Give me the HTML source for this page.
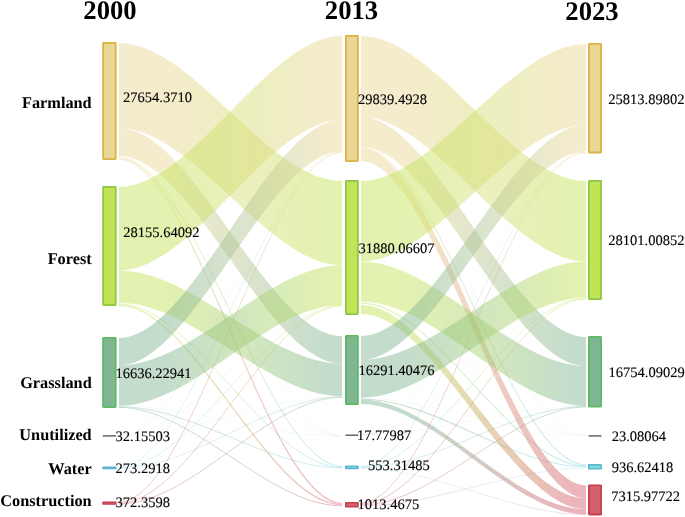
<!DOCTYPE html>
<html><head><meta charset="utf-8"><style>
html,body{margin:0;padding:0;background:#fff;width:685px;height:517px;overflow:hidden}
svg{display:block;will-change:transform}
</style></head><body>
<svg width="685" height="517" viewBox="0 0 685 517">
<defs><linearGradient id="g1" gradientUnits="userSpaceOnUse" x1="119" y1="0" x2="342" y2="0"><stop offset="0" stop-color="#E9D794"/><stop offset="0.2" stop-color="#E9D794"/><stop offset="0.95" stop-color="#C3E356"/><stop offset="1" stop-color="#C3E356"/></linearGradient><linearGradient id="g2" gradientUnits="userSpaceOnUse" x1="119" y1="0" x2="342" y2="0"><stop offset="0" stop-color="#E9D794"/><stop offset="0.2" stop-color="#E9D794"/><stop offset="0.95" stop-color="#80B592"/><stop offset="1" stop-color="#80B592"/></linearGradient><linearGradient id="g3" gradientUnits="userSpaceOnUse" x1="119" y1="0" x2="342" y2="0"><stop offset="0" stop-color="#C3E356"/><stop offset="0.2" stop-color="#C3E356"/><stop offset="0.95" stop-color="#E9D794"/><stop offset="1" stop-color="#E9D794"/></linearGradient><linearGradient id="g4" gradientUnits="userSpaceOnUse" x1="119" y1="0" x2="342" y2="0"><stop offset="0" stop-color="#C3E356"/><stop offset="0.2" stop-color="#C3E356"/><stop offset="0.95" stop-color="#80B592"/><stop offset="1" stop-color="#80B592"/></linearGradient><linearGradient id="g5" gradientUnits="userSpaceOnUse" x1="119" y1="0" x2="342" y2="0"><stop offset="0" stop-color="#80B592"/><stop offset="0.2" stop-color="#80B592"/><stop offset="0.95" stop-color="#E9D794"/><stop offset="1" stop-color="#E9D794"/></linearGradient><linearGradient id="g6" gradientUnits="userSpaceOnUse" x1="119" y1="0" x2="342" y2="0"><stop offset="0" stop-color="#80B592"/><stop offset="0.2" stop-color="#80B592"/><stop offset="0.95" stop-color="#C3E356"/><stop offset="1" stop-color="#C3E356"/></linearGradient><linearGradient id="g7" gradientUnits="userSpaceOnUse" x1="361" y1="0" x2="586" y2="0"><stop offset="0" stop-color="#E9D794"/><stop offset="0.2" stop-color="#E9D794"/><stop offset="0.95" stop-color="#C3E356"/><stop offset="1" stop-color="#C3E356"/></linearGradient><linearGradient id="g8" gradientUnits="userSpaceOnUse" x1="361" y1="0" x2="586" y2="0"><stop offset="0" stop-color="#E9D794"/><stop offset="0.2" stop-color="#E9D794"/><stop offset="0.95" stop-color="#80B592"/><stop offset="1" stop-color="#80B592"/></linearGradient><linearGradient id="g9" gradientUnits="userSpaceOnUse" x1="361" y1="0" x2="586" y2="0"><stop offset="0" stop-color="#E9D794"/><stop offset="0.2" stop-color="#E9D794"/><stop offset="0.95" stop-color="#D5606E"/><stop offset="1" stop-color="#D5606E"/></linearGradient><linearGradient id="g10" gradientUnits="userSpaceOnUse" x1="361" y1="0" x2="586" y2="0"><stop offset="0" stop-color="#C3E356"/><stop offset="0.2" stop-color="#C3E356"/><stop offset="0.95" stop-color="#E9D794"/><stop offset="1" stop-color="#E9D794"/></linearGradient><linearGradient id="g11" gradientUnits="userSpaceOnUse" x1="361" y1="0" x2="586" y2="0"><stop offset="0" stop-color="#C3E356"/><stop offset="0.2" stop-color="#C3E356"/><stop offset="0.95" stop-color="#80B592"/><stop offset="1" stop-color="#80B592"/></linearGradient><linearGradient id="g12" gradientUnits="userSpaceOnUse" x1="361" y1="0" x2="586" y2="0"><stop offset="0" stop-color="#C3E356"/><stop offset="0.2" stop-color="#C3E356"/><stop offset="0.95" stop-color="#D5606E"/><stop offset="1" stop-color="#D5606E"/></linearGradient><linearGradient id="g13" gradientUnits="userSpaceOnUse" x1="361" y1="0" x2="586" y2="0"><stop offset="0" stop-color="#80B592"/><stop offset="0.2" stop-color="#80B592"/><stop offset="0.95" stop-color="#E9D794"/><stop offset="1" stop-color="#E9D794"/></linearGradient><linearGradient id="g14" gradientUnits="userSpaceOnUse" x1="361" y1="0" x2="586" y2="0"><stop offset="0" stop-color="#80B592"/><stop offset="0.2" stop-color="#80B592"/><stop offset="0.95" stop-color="#C3E356"/><stop offset="1" stop-color="#C3E356"/></linearGradient><linearGradient id="g15" gradientUnits="userSpaceOnUse" x1="361" y1="0" x2="586" y2="0"><stop offset="0" stop-color="#80B592"/><stop offset="0.2" stop-color="#80B592"/><stop offset="0.95" stop-color="#D5606E"/><stop offset="1" stop-color="#D5606E"/></linearGradient><linearGradient id="g16" gradientUnits="userSpaceOnUse" x1="119" y1="0" x2="342" y2="0"><stop offset="0" stop-color="#E9D794"/><stop offset="0.2" stop-color="#E9D794"/><stop offset="0.95" stop-color="#777777"/><stop offset="1" stop-color="#777777"/></linearGradient><linearGradient id="g17" gradientUnits="userSpaceOnUse" x1="119" y1="0" x2="342" y2="0"><stop offset="0" stop-color="#E9D794"/><stop offset="0.2" stop-color="#E9D794"/><stop offset="0.95" stop-color="#7FD9E0"/><stop offset="1" stop-color="#7FD9E0"/></linearGradient><linearGradient id="g18" gradientUnits="userSpaceOnUse" x1="119" y1="0" x2="342" y2="0"><stop offset="0" stop-color="#E9D794"/><stop offset="0.2" stop-color="#E9D794"/><stop offset="0.95" stop-color="#D5606E"/><stop offset="1" stop-color="#D5606E"/></linearGradient><linearGradient id="g19" gradientUnits="userSpaceOnUse" x1="119" y1="0" x2="342" y2="0"><stop offset="0" stop-color="#C3E356"/><stop offset="0.2" stop-color="#C3E356"/><stop offset="0.95" stop-color="#777777"/><stop offset="1" stop-color="#777777"/></linearGradient><linearGradient id="g20" gradientUnits="userSpaceOnUse" x1="119" y1="0" x2="342" y2="0"><stop offset="0" stop-color="#C3E356"/><stop offset="0.2" stop-color="#C3E356"/><stop offset="0.95" stop-color="#7FD9E0"/><stop offset="1" stop-color="#7FD9E0"/></linearGradient><linearGradient id="g21" gradientUnits="userSpaceOnUse" x1="119" y1="0" x2="342" y2="0"><stop offset="0" stop-color="#C3E356"/><stop offset="0.2" stop-color="#C3E356"/><stop offset="0.95" stop-color="#D5606E"/><stop offset="1" stop-color="#D5606E"/></linearGradient><linearGradient id="g22" gradientUnits="userSpaceOnUse" x1="119" y1="0" x2="342" y2="0"><stop offset="0" stop-color="#80B592"/><stop offset="0.2" stop-color="#80B592"/><stop offset="0.95" stop-color="#777777"/><stop offset="1" stop-color="#777777"/></linearGradient><linearGradient id="g23" gradientUnits="userSpaceOnUse" x1="119" y1="0" x2="342" y2="0"><stop offset="0" stop-color="#80B592"/><stop offset="0.2" stop-color="#80B592"/><stop offset="0.95" stop-color="#7FD9E0"/><stop offset="1" stop-color="#7FD9E0"/></linearGradient><linearGradient id="g24" gradientUnits="userSpaceOnUse" x1="119" y1="0" x2="342" y2="0"><stop offset="0" stop-color="#80B592"/><stop offset="0.2" stop-color="#80B592"/><stop offset="0.95" stop-color="#D5606E"/><stop offset="1" stop-color="#D5606E"/></linearGradient><linearGradient id="g25" gradientUnits="userSpaceOnUse" x1="119" y1="0" x2="342" y2="0"><stop offset="0" stop-color="#777777"/><stop offset="0.2" stop-color="#777777"/><stop offset="0.95" stop-color="#E9D794"/><stop offset="1" stop-color="#E9D794"/></linearGradient><linearGradient id="g26" gradientUnits="userSpaceOnUse" x1="119" y1="0" x2="342" y2="0"><stop offset="0" stop-color="#777777"/><stop offset="0.2" stop-color="#777777"/><stop offset="0.95" stop-color="#C3E356"/><stop offset="1" stop-color="#C3E356"/></linearGradient><linearGradient id="g27" gradientUnits="userSpaceOnUse" x1="119" y1="0" x2="342" y2="0"><stop offset="0" stop-color="#777777"/><stop offset="0.2" stop-color="#777777"/><stop offset="0.95" stop-color="#80B592"/><stop offset="1" stop-color="#80B592"/></linearGradient><linearGradient id="g28" gradientUnits="userSpaceOnUse" x1="119" y1="0" x2="342" y2="0"><stop offset="0" stop-color="#7FD9E0"/><stop offset="0.2" stop-color="#7FD9E0"/><stop offset="0.95" stop-color="#E9D794"/><stop offset="1" stop-color="#E9D794"/></linearGradient><linearGradient id="g29" gradientUnits="userSpaceOnUse" x1="119" y1="0" x2="342" y2="0"><stop offset="0" stop-color="#7FD9E0"/><stop offset="0.2" stop-color="#7FD9E0"/><stop offset="0.95" stop-color="#C3E356"/><stop offset="1" stop-color="#C3E356"/></linearGradient><linearGradient id="g30" gradientUnits="userSpaceOnUse" x1="119" y1="0" x2="342" y2="0"><stop offset="0" stop-color="#7FD9E0"/><stop offset="0.2" stop-color="#7FD9E0"/><stop offset="0.95" stop-color="#80B592"/><stop offset="1" stop-color="#80B592"/></linearGradient><linearGradient id="g31" gradientUnits="userSpaceOnUse" x1="119" y1="0" x2="342" y2="0"><stop offset="0" stop-color="#D5606E"/><stop offset="0.2" stop-color="#D5606E"/><stop offset="0.95" stop-color="#E9D794"/><stop offset="1" stop-color="#E9D794"/></linearGradient><linearGradient id="g32" gradientUnits="userSpaceOnUse" x1="119" y1="0" x2="342" y2="0"><stop offset="0" stop-color="#D5606E"/><stop offset="0.2" stop-color="#D5606E"/><stop offset="0.95" stop-color="#C3E356"/><stop offset="1" stop-color="#C3E356"/></linearGradient><linearGradient id="g33" gradientUnits="userSpaceOnUse" x1="119" y1="0" x2="342" y2="0"><stop offset="0" stop-color="#D5606E"/><stop offset="0.2" stop-color="#D5606E"/><stop offset="0.95" stop-color="#80B592"/><stop offset="1" stop-color="#80B592"/></linearGradient><linearGradient id="g34" gradientUnits="userSpaceOnUse" x1="361" y1="0" x2="586" y2="0"><stop offset="0" stop-color="#E9D794"/><stop offset="0.2" stop-color="#E9D794"/><stop offset="0.95" stop-color="#777777"/><stop offset="1" stop-color="#777777"/></linearGradient><linearGradient id="g35" gradientUnits="userSpaceOnUse" x1="361" y1="0" x2="586" y2="0"><stop offset="0" stop-color="#E9D794"/><stop offset="0.2" stop-color="#E9D794"/><stop offset="0.95" stop-color="#7FD9E0"/><stop offset="1" stop-color="#7FD9E0"/></linearGradient><linearGradient id="g36" gradientUnits="userSpaceOnUse" x1="361" y1="0" x2="586" y2="0"><stop offset="0" stop-color="#C3E356"/><stop offset="0.2" stop-color="#C3E356"/><stop offset="0.95" stop-color="#777777"/><stop offset="1" stop-color="#777777"/></linearGradient><linearGradient id="g37" gradientUnits="userSpaceOnUse" x1="361" y1="0" x2="586" y2="0"><stop offset="0" stop-color="#C3E356"/><stop offset="0.2" stop-color="#C3E356"/><stop offset="0.95" stop-color="#7FD9E0"/><stop offset="1" stop-color="#7FD9E0"/></linearGradient><linearGradient id="g38" gradientUnits="userSpaceOnUse" x1="361" y1="0" x2="586" y2="0"><stop offset="0" stop-color="#80B592"/><stop offset="0.2" stop-color="#80B592"/><stop offset="0.95" stop-color="#777777"/><stop offset="1" stop-color="#777777"/></linearGradient><linearGradient id="g39" gradientUnits="userSpaceOnUse" x1="361" y1="0" x2="586" y2="0"><stop offset="0" stop-color="#80B592"/><stop offset="0.2" stop-color="#80B592"/><stop offset="0.95" stop-color="#7FD9E0"/><stop offset="1" stop-color="#7FD9E0"/></linearGradient><linearGradient id="g40" gradientUnits="userSpaceOnUse" x1="361" y1="0" x2="586" y2="0"><stop offset="0" stop-color="#777777"/><stop offset="0.2" stop-color="#777777"/><stop offset="0.95" stop-color="#E9D794"/><stop offset="1" stop-color="#E9D794"/></linearGradient><linearGradient id="g41" gradientUnits="userSpaceOnUse" x1="361" y1="0" x2="586" y2="0"><stop offset="0" stop-color="#777777"/><stop offset="0.2" stop-color="#777777"/><stop offset="0.95" stop-color="#C3E356"/><stop offset="1" stop-color="#C3E356"/></linearGradient><linearGradient id="g42" gradientUnits="userSpaceOnUse" x1="361" y1="0" x2="586" y2="0"><stop offset="0" stop-color="#777777"/><stop offset="0.2" stop-color="#777777"/><stop offset="0.95" stop-color="#80B592"/><stop offset="1" stop-color="#80B592"/></linearGradient><linearGradient id="g43" gradientUnits="userSpaceOnUse" x1="361" y1="0" x2="586" y2="0"><stop offset="0" stop-color="#7FD9E0"/><stop offset="0.2" stop-color="#7FD9E0"/><stop offset="0.95" stop-color="#E9D794"/><stop offset="1" stop-color="#E9D794"/></linearGradient><linearGradient id="g44" gradientUnits="userSpaceOnUse" x1="361" y1="0" x2="586" y2="0"><stop offset="0" stop-color="#7FD9E0"/><stop offset="0.2" stop-color="#7FD9E0"/><stop offset="0.95" stop-color="#C3E356"/><stop offset="1" stop-color="#C3E356"/></linearGradient><linearGradient id="g45" gradientUnits="userSpaceOnUse" x1="361" y1="0" x2="586" y2="0"><stop offset="0" stop-color="#7FD9E0"/><stop offset="0.2" stop-color="#7FD9E0"/><stop offset="0.95" stop-color="#80B592"/><stop offset="1" stop-color="#80B592"/></linearGradient><linearGradient id="g46" gradientUnits="userSpaceOnUse" x1="361" y1="0" x2="586" y2="0"><stop offset="0" stop-color="#7FD9E0"/><stop offset="0.2" stop-color="#7FD9E0"/><stop offset="0.95" stop-color="#D5606E"/><stop offset="1" stop-color="#D5606E"/></linearGradient><linearGradient id="g47" gradientUnits="userSpaceOnUse" x1="361" y1="0" x2="586" y2="0"><stop offset="0" stop-color="#D5606E"/><stop offset="0.2" stop-color="#D5606E"/><stop offset="0.95" stop-color="#E9D794"/><stop offset="1" stop-color="#E9D794"/></linearGradient><linearGradient id="g48" gradientUnits="userSpaceOnUse" x1="361" y1="0" x2="586" y2="0"><stop offset="0" stop-color="#D5606E"/><stop offset="0.2" stop-color="#D5606E"/><stop offset="0.95" stop-color="#C3E356"/><stop offset="1" stop-color="#C3E356"/></linearGradient><linearGradient id="g49" gradientUnits="userSpaceOnUse" x1="361" y1="0" x2="586" y2="0"><stop offset="0" stop-color="#D5606E"/><stop offset="0.2" stop-color="#D5606E"/><stop offset="0.95" stop-color="#80B592"/><stop offset="1" stop-color="#80B592"/></linearGradient><linearGradient id="g50" gradientUnits="userSpaceOnUse" x1="361" y1="0" x2="586" y2="0"><stop offset="0" stop-color="#D5606E"/><stop offset="0.2" stop-color="#D5606E"/><stop offset="0.95" stop-color="#7FD9E0"/><stop offset="1" stop-color="#7FD9E0"/></linearGradient></defs>
<rect width="685" height="517" fill="#fff"/>
<g><path d="M119,156.6 C193.33,156.6 267.67,436.0 342,436.0" stroke="url(#g16)" stroke-width="0.25" fill="none" stroke-opacity="0.22"/><path d="M119,157.6 C193.33,157.6 267.67,466.6 342,466.6" stroke="url(#g17)" stroke-width="1.1" fill="none" stroke-opacity="0.42"/><path d="M119,159.0 C193.33,159.0 267.67,503.4 342,503.4" stroke="url(#g18)" stroke-width="1.4" fill="none" stroke-opacity="0.42"/><path d="M119,303.2 C193.33,303.2 267.67,435.6 342,435.6" stroke="url(#g19)" stroke-width="0.25" fill="none" stroke-opacity="0.22"/><path d="M119,304.0 C193.33,304.0 267.67,467.4 342,467.4" stroke="url(#g20)" stroke-width="1.0" fill="none" stroke-opacity="0.42"/><path d="M119,305.2 C193.33,305.2 267.67,504.6 342,504.6" stroke="url(#g21)" stroke-width="1.4" fill="none" stroke-opacity="0.42"/><path d="M119,405.9 C193.33,405.9 267.67,436.2 342,436.2" stroke="url(#g22)" stroke-width="0.25" fill="none" stroke-opacity="0.22"/><path d="M119,406.6 C193.33,406.6 267.67,468.0 342,468.0" stroke="url(#g23)" stroke-width="0.9" fill="none" stroke-opacity="0.42"/><path d="M119,407.4 C193.33,407.4 267.67,505.8 342,505.8" stroke="url(#g24)" stroke-width="1.0" fill="none" stroke-opacity="0.42"/><path d="M119,435.8 C193.33,435.8 267.67,151.8 342,151.8" stroke="url(#g25)" stroke-width="0.25" fill="none" stroke-opacity="0.22"/><path d="M119,435.8 C193.33,435.8 267.67,305.3 342,305.3" stroke="url(#g26)" stroke-width="0.25" fill="none" stroke-opacity="0.22"/><path d="M119,435.8 C193.33,435.8 267.67,396.5 342,396.5" stroke="url(#g27)" stroke-width="0.25" fill="none" stroke-opacity="0.22"/><path d="M119,467.4 C193.33,467.4 267.67,152.0 342,152.0" stroke="url(#g28)" stroke-width="0.7" fill="none" stroke-opacity="0.42"/><path d="M119,468.0 C193.33,468.0 267.67,305.6 342,305.6" stroke="url(#g29)" stroke-width="0.7" fill="none" stroke-opacity="0.42"/><path d="M119,468.6 C193.33,468.6 267.67,396.8 342,396.8" stroke="url(#g30)" stroke-width="0.7" fill="none" stroke-opacity="0.42"/><path d="M119,502.3 C193.33,502.3 267.67,152.4 342,152.4" stroke="url(#g31)" stroke-width="0.8" fill="none" stroke-opacity="0.42"/><path d="M119,503.1 C193.33,503.1 267.67,306.0 342,306.0" stroke="url(#g32)" stroke-width="0.9" fill="none" stroke-opacity="0.42"/><path d="M119,503.9 C193.33,503.9 267.67,397.3 342,397.3" stroke="url(#g33)" stroke-width="0.9" fill="none" stroke-opacity="0.42"/><path d="M361,146.9 C436.0,146.9 511.0,435.4 586,435.4" stroke="url(#g34)" stroke-width="0.25" fill="none" stroke-opacity="0.22"/><path d="M361,147.5 C436.0,147.5 511.0,465.0 586,465.0" stroke="url(#g35)" stroke-width="1.2" fill="none" stroke-opacity="0.42"/><path d="M361,302.0 C436.0,302.0 511.0,435.8 586,435.8" stroke="url(#g36)" stroke-width="0.25" fill="none" stroke-opacity="0.22"/><path d="M361,303.2 C436.0,303.2 511.0,465.9 586,465.9" stroke="url(#g37)" stroke-width="1.2" fill="none" stroke-opacity="0.42"/><path d="M361,398.2 C436.0,398.2 511.0,436.1 586,436.1" stroke="url(#g38)" stroke-width="0.25" fill="none" stroke-opacity="0.22"/><path d="M361,399.0 C436.0,399.0 511.0,466.9 586,466.9" stroke="url(#g39)" stroke-width="1.1" fill="none" stroke-opacity="0.42"/><path d="M361,435.0 C436.0,435.0 511.0,151.8 586,151.8" stroke="url(#g40)" stroke-width="0.25" fill="none" stroke-opacity="0.22"/><path d="M361,435.0 C436.0,435.0 511.0,298.0 586,298.0" stroke="url(#g41)" stroke-width="0.25" fill="none" stroke-opacity="0.22"/><path d="M361,435.0 C436.0,435.0 511.0,406.0 586,406.0" stroke="url(#g42)" stroke-width="0.25" fill="none" stroke-opacity="0.22"/><path d="M361,466.6 C436.0,466.6 511.0,152.0 586,152.0" stroke="url(#g43)" stroke-width="0.8" fill="none" stroke-opacity="0.42"/><path d="M361,467.2 C436.0,467.2 511.0,298.4 586,298.4" stroke="url(#g44)" stroke-width="0.8" fill="none" stroke-opacity="0.42"/><path d="M361,467.8 C436.0,467.8 511.0,406.4 586,406.4" stroke="url(#g45)" stroke-width="0.8" fill="none" stroke-opacity="0.42"/><path d="M361,468.3 C436.0,468.3 511.0,514.6 586,514.6" stroke="url(#g46)" stroke-width="0.5" fill="none" stroke-opacity="0.42"/><path d="M361,503.0 C436.0,503.0 511.0,152.6 586,152.6" stroke="url(#g47)" stroke-width="0.8" fill="none" stroke-opacity="0.42"/><path d="M361,504.0 C436.0,504.0 511.0,298.9 586,298.9" stroke="url(#g48)" stroke-width="0.9" fill="none" stroke-opacity="0.42"/><path d="M361,505.0 C436.0,505.0 511.0,406.9 586,406.9" stroke="url(#g49)" stroke-width="0.9" fill="none" stroke-opacity="0.42"/><path d="M361,506.0 C436.0,506.0 511.0,468.2 586,468.2" stroke="url(#g50)" stroke-width="0.5" fill="none" stroke-opacity="0.42"/></g>
<g><path d="M119,43 C193.33,43 267.67,181 342,181 L342,265.3 C267.67,265.3 193.33,128 119,128 Z" fill="url(#g1)" fill-opacity="0.47"/><path d="M119,128 C193.33,128 267.67,336 342,336 L342,363.6 C267.67,363.6 193.33,156 119,156 Z" fill="url(#g2)" fill-opacity="0.47"/><path d="M119,187 C193.33,187 267.67,36 342,36 L342,120 C267.67,120 193.33,270.5 119,270.5 Z" fill="url(#g3)" fill-opacity="0.47"/><path d="M119,270.5 C193.33,270.5 267.67,363.6 342,363.6 L342,396.3 C267.67,396.3 193.33,302.8 119,302.8 Z" fill="url(#g4)" fill-opacity="0.47"/><path d="M119,338 C193.33,338 267.67,120 342,120 L342,151.5 C267.67,151.5 193.33,365.5 119,365.5 Z" fill="url(#g5)" fill-opacity="0.47"/><path d="M119,365.5 C193.33,365.5 267.67,265.3 342,265.3 L342,305 C267.67,305 193.33,405.7 119,405.7 Z" fill="url(#g6)" fill-opacity="0.47"/><path d="M361,36 C436.0,36 511.0,181 586,181 L586,261.4 C511.0,261.4 436.0,117 361,117 Z" fill="url(#g7)" fill-opacity="0.47"/><path d="M361,117 C436.0,117 511.0,337 586,337 L586,366 C511.0,366 436.0,146.7 361,146.7 Z" fill="url(#g8)" fill-opacity="0.47"/><path d="M361,148 C436.0,148 511.0,485.4 586,485.4 L586,498.2 C511.0,498.2 436.0,161 361,161 Z" fill="url(#g9)" fill-opacity="0.47"/><path d="M361,181 C436.0,181 511.0,44 586,44 L586,125 C511.0,125 436.0,261.4 361,261.4 Z" fill="url(#g10)" fill-opacity="0.47"/><path d="M361,261.4 C436.0,261.4 511.0,366 586,366 L586,406 C511.0,406 436.0,301.5 361,301.5 Z" fill="url(#g11)" fill-opacity="0.47"/><path d="M361,305 C436.0,305 511.0,498.2 586,498.2 L586,509.1 C511.0,509.1 436.0,314 361,314 Z" fill="url(#g12)" fill-opacity="0.47"/><path d="M361,336 C436.0,336 511.0,125 586,125 L586,151.6 C511.0,151.6 436.0,360 361,360 Z" fill="url(#g13)" fill-opacity="0.47"/><path d="M361,360 C436.0,360 511.0,261.4 586,261.4 L586,297.6 C511.0,297.6 436.0,397.8 361,397.8 Z" fill="url(#g14)" fill-opacity="0.47"/><path d="M361,399.5 C436.0,399.5 511.0,509.1 586,509.1 L586,514.4 C511.0,514.4 436.0,404 361,404 Z" fill="url(#g15)" fill-opacity="0.47"/></g>
<g><rect x="103.10000000000001" y="42.9" width="12.59999999999999" height="116.2" rx="0.5" fill="#E9D794" stroke="#DBB244" stroke-width="1.8"/><rect x="103.10000000000001" y="186.9" width="12.59999999999999" height="118.2" rx="0.5" fill="#C3E356" stroke="#8EC744" stroke-width="1.8"/><rect x="103.10000000000001" y="337.9" width="12.59999999999999" height="69.2" rx="0.5" fill="#80B592" stroke="#5DBB63" stroke-width="1.8"/><rect x="102.7" y="435.15" width="13.399999999999991" height="1.5" fill="#666666"/><rect x="102.9" y="467.2" width="12.999999999999991" height="1.4000000000000115" rx="0.3" fill="#7FD9E0" stroke="#5AB4CC" stroke-width="1.4"/><rect x="102.9" y="502.3" width="12.999999999999991" height="1.7999999999999887" rx="0.3" fill="#D5606E" stroke="#C8404E" stroke-width="1.4"/><rect x="345.9" y="35.9" width="12.00000000000001" height="125.2" rx="0.5" fill="#E9D794" stroke="#DBB244" stroke-width="1.8"/><rect x="345.9" y="180.9" width="12.00000000000001" height="133.2" rx="0.5" fill="#C3E356" stroke="#8EC744" stroke-width="1.8"/><rect x="345.9" y="335.9" width="12.00000000000001" height="68.2" rx="0.5" fill="#80B592" stroke="#5DBB63" stroke-width="1.8"/><rect x="345.5" y="434.5" width="12.800000000000011" height="1.5" fill="#666666"/><rect x="345.7" y="466.09999999999997" width="12.400000000000011" height="2.4000000000000115" rx="0.3" fill="#7FD9E0" stroke="#5AB4CC" stroke-width="1.4"/><rect x="345.7" y="502.8" width="12.400000000000011" height="3.8999999999999546" rx="0.3" fill="#D5606E" stroke="#C8404E" stroke-width="1.4"/><rect x="588.9" y="43.9" width="12.2" height="108.60000000000001" rx="0.5" fill="#E9D794" stroke="#DBB244" stroke-width="1.8"/><rect x="588.9" y="180.9" width="12.2" height="118.2" rx="0.5" fill="#C3E356" stroke="#8EC744" stroke-width="1.8"/><rect x="588.9" y="336.9" width="12.2" height="69.7" rx="0.5" fill="#80B592" stroke="#5DBB63" stroke-width="1.8"/><rect x="588.5" y="435.15" width="13" height="1.5" fill="#666666"/><rect x="588.7" y="464.8" width="12.6" height="4.1" rx="0.5" fill="#7FD9E0" stroke="#5AB4CC" stroke-width="1.4"/><rect x="588.9" y="485.29999999999995" width="12.2" height="29.2" rx="0.5" fill="#D5606E" stroke="#C8404E" stroke-width="1.8"/></g>
<g font-family="'Liberation Serif', serif" fill="#000" opacity="0.999" text-rendering="geometricPrecision"><text x="110" y="18.5" font-size="26.67" font-weight="bold" text-anchor="middle">2000</text><text x="351.5" y="19" font-size="26.67" font-weight="bold" text-anchor="middle">2013</text><text x="592" y="19.7" font-size="26.67" font-weight="bold" text-anchor="middle">2023</text><text x="91.7" y="107.6" font-size="16.3" font-weight="bold" text-anchor="end">Farmland</text><text x="91.7" y="264.1" font-size="16.3" font-weight="bold" text-anchor="end">Forest</text><text x="91.7" y="388.4" font-size="16.3" font-weight="bold" text-anchor="end">Grassland</text><text x="91.7" y="440.4" font-size="16.3" font-weight="bold" text-anchor="end">Unutilized</text><text x="91.7" y="473.8" font-size="16.3" font-weight="bold" text-anchor="end">Water</text><text x="91.7" y="506" font-size="16.3" font-weight="bold" text-anchor="end">Construction</text><text x="123" y="101.7" font-size="14.5" font-weight="normal" text-anchor="start" stroke="#000" stroke-width="0.12">27654.3710</text><text x="123.3" y="237" font-size="14.5" font-weight="normal" text-anchor="start" stroke="#000" stroke-width="0.12">28155.64092</text><text x="115.4" y="377.6" font-size="14.5" font-weight="normal" text-anchor="start" stroke="#000" stroke-width="0.12">16636.22941</text><text x="115.6" y="441" font-size="14.5" font-weight="normal" text-anchor="start" stroke="#000" stroke-width="0.12">32.15503</text><text x="115.6" y="473.2" font-size="14.5" font-weight="normal" text-anchor="start" stroke="#000" stroke-width="0.12">273.2918</text><text x="115.6" y="507.3" font-size="14.5" font-weight="normal" text-anchor="start" stroke="#000" stroke-width="0.12">372.3598</text><text x="358" y="103.9" font-size="14.5" font-weight="normal" text-anchor="start" stroke="#000" stroke-width="0.12">29839.4928</text><text x="358.4" y="253.2" font-size="14.5" font-weight="normal" text-anchor="start" stroke="#000" stroke-width="0.12">31880.06607</text><text x="358.4" y="375.1" font-size="14.5" font-weight="normal" text-anchor="start" stroke="#000" stroke-width="0.12">16291.40476</text><text x="356.9" y="440.4" font-size="14.5" font-weight="normal" text-anchor="start" stroke="#000" stroke-width="0.12">17.77987</text><text x="368" y="470.1" font-size="14.5" font-weight="normal" text-anchor="start" stroke="#000" stroke-width="0.12">553.31485</text><text x="357.5" y="509.1" font-size="14.5" font-weight="normal" text-anchor="start" stroke="#000" stroke-width="0.12">1013.4675</text><text x="608.3" y="103.9" font-size="14.5" font-weight="normal" text-anchor="start" stroke="#000" stroke-width="0.12">25813.89802</text><text x="608.3" y="245.0" font-size="14.5" font-weight="normal" text-anchor="start" stroke="#000" stroke-width="0.12">28101.00852</text><text x="608.5" y="377.2" font-size="14.5" font-weight="normal" text-anchor="start" stroke="#000" stroke-width="0.12">16754.09029</text><text x="611.7" y="441.3" font-size="14.5" font-weight="normal" text-anchor="start" stroke="#000" stroke-width="0.12">23.08064</text><text x="611.7" y="472.0" font-size="14.5" font-weight="normal" text-anchor="start" stroke="#000" stroke-width="0.12">936.62418</text><text x="611.2" y="501.4" font-size="14.5" font-weight="normal" text-anchor="start" stroke="#000" stroke-width="0.12">7315.97722</text></g>
</svg>
</body></html>
